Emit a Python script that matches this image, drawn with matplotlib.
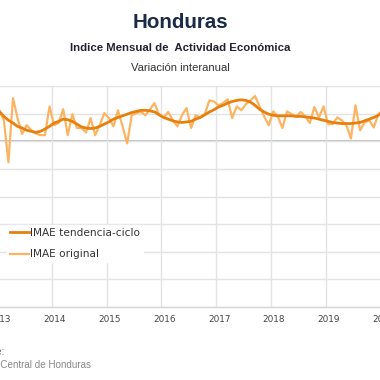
import numpy as np
import matplotlib
matplotlib.use("Agg")
import matplotlib.pyplot as plt
import matplotlib.transforms as mtransforms
from matplotlib.lines import Line2D

# ---------------- data (monthly, starting Jan 2013) ----------------
start_year = 2013
imae_original = [5.6, 3.8, -3.8, 7.8, 4.2, 1.3, 2.9, 2.0, 1.4, 1.1, 1.1, 6.3,
                 2.9, 3.3, 5.8, 1.1, 4.9, 2.4, 2.4, 1.6, 4.2, 1.1, 2.9, 5.1,
                 4.2, 2.7, 5.6, 2.7, -0.4, 4.7, 5.1, 5.3, 4.7, 5.8, 6.9, 4.7,
                 4.3, 5.3, 3.8, 2.7, 4.7, 6.0, 2.4, 4.7, 4.3, 4.9, 7.4, 7.2,
                 6.5, 6.9, 7.6, 4.2, 6.3, 5.6, 6.7, 7.4, 8.2, 6.3, 4.5, 2.9,
                 5.4, 4.5, 2.4, 5.4, 4.9, 4.5, 5.3, 4.5, 3.3, 6.2, 4.3, 6.3,
                 3.1, 3.1, 4.3, 3.8, 2.9, 0.5, 6.5, 2.0, 3.4, 3.8, 2.5, 4.9,
                 5.6]
imae_tendencia = [5.4, 4.5, 3.8, 3.3, 2.7, 2.4, 2.0, 1.8, 1.6, 1.8, 2.2, 2.7,
                  3.3, 3.6, 4.0, 3.9, 3.6, 3.1, 2.6, 2.4, 2.3, 2.4, 2.7, 3.1,
                  3.5, 4.0, 4.3, 4.6, 4.9, 5.2, 5.4, 5.6, 5.6, 5.5, 5.3, 4.8,
                  4.3, 4.0, 3.7, 3.5, 3.4, 3.5, 3.6, 4.0, 4.3, 4.8, 5.3, 5.7,
                  6.2, 6.5, 6.9, 7.2, 7.4, 7.5, 7.4, 7.1, 6.5, 5.8, 5.3, 4.9,
                  4.7, 4.6, 4.6, 4.6, 4.6, 4.5, 4.5, 4.4, 4.3, 4.2, 4.0, 3.8,
                  3.6, 3.4, 3.3, 3.2, 3.2, 3.2, 3.3, 3.4, 3.7, 4.0, 4.3, 4.7,
                  5.1]
year_ticks = [2013, 2014, 2015, 2016, 2017, 2018, 2019, 2020]
y_ticks = [-30, -25, -20, -15, -10, -5, 0, 5, 10]
series_labels = ["IMAE tendencia-ciclo", "IMAE original"]

# ---------------- figure ----------------
W = H = 380
fig = plt.figure(figsize=(3.8, 3.8), dpi=100)

def fx(px):
    return px / W

def fy(py):
    return 1 - py / H

# plot area (extends beyond the left edge of the crop)
ax_left_px, ax_right_px = -20, 381
ax_top_px, ax_bottom_px = 86, 307
ax = fig.add_axes([fx(ax_left_px), fy(ax_bottom_px),
                   (ax_right_px - ax_left_px) / W, (ax_bottom_px - ax_top_px) / H])

px_per_year = 54.8
x0_px = -3  # pixel of 2013 gridline
ax.set_xlim(start_year + (ax_left_px - x0_px) / px_per_year,
            start_year + (ax_right_px - x0_px) / px_per_year)
ax.set_ylim(-30, 10)

n = len(imae_original)
x = start_year + (np.arange(n) + 0.5) / 12.0

col_trend = "#e8800e"
col_orig = "#fdb462"

ax.plot(x, imae_original, color=col_orig, lw=1.6, zorder=3)
ax.plot(x, imae_tendencia, color=col_trend, lw=2.0, zorder=4)

ax.set_xticks(year_ticks)
ax.set_xticklabels([str(y) for y in year_ticks])
ax.set_yticks(y_ticks)
ax.set_yticklabels([])
ax.grid(True, color="#e3e3e3", lw=1.0, zorder=0)
ax.axhline(0, color="#b8b8b8", lw=1.3, zorder=1)
ax.tick_params(axis="both", length=0)
ax.tick_params(axis="x", pad=6, labelsize=6.4, labelcolor="#444444")
for s in ["top", "left", "right"]:
    ax.spines[s].set_visible(False)
ax.spines["bottom"].set_color("#d6d6d6")
ax.spines["bottom"].set_linewidth(1.0)

offset = mtransforms.ScaledTranslation(3 / 100, 0, fig.dpi_scale_trans)
for lab in ax.get_xticklabels():
    lab.set_transform(lab.get_transform() + offset)

handles = [Line2D([], [], color=col_trend, lw=2.0),
           Line2D([], [], color=col_orig, lw=1.6)]
leg = fig.legend(handles, series_labels, loc="upper left",
                 bbox_to_anchor=(fx(7), fy(225)), bbox_transform=fig.transFigure,
                 frameon=True, fancybox=False, framealpha=1.0, facecolor="white",
                 edgecolor="white", fontsize=7.6, handlelength=1.75,
                 handletextpad=0.15, labelspacing=1.05, borderpad=0.3,
                 borderaxespad=0)
for t in leg.get_texts():
    t.set_color("#333333")

# titles
fig.text(fx(180), fy(23), "Honduras", ha="center", va="center",
         fontsize=14.8, fontweight="bold", color="#1b2a47", family="Liberation Sans")
fig.text(fx(180), fy(48), "Indice Mensual de  Actividad Económica", ha="center", va="center",
         fontsize=8.2, fontweight="bold", color="#222233", family="Liberation Sans")
fig.text(fx(180), fy(68), "Variación interanual", ha="center", va="center",
         fontsize=8.1, color="#333333", family="Liberation Sans")

# source (cut off at the left edge as in the reference)
fig.text(fx(4.5), fy(352), "Fuente:", ha="right", va="center",
         fontsize=7.1, color="#666666", family="Liberation Sans")
fig.text(fx(91), fy(365), "Banco Central de Honduras", ha="right", va="center",
         fontsize=7.1, color="#888888", family="Liberation Sans")

fig.savefig("out.png", dpi=100)
